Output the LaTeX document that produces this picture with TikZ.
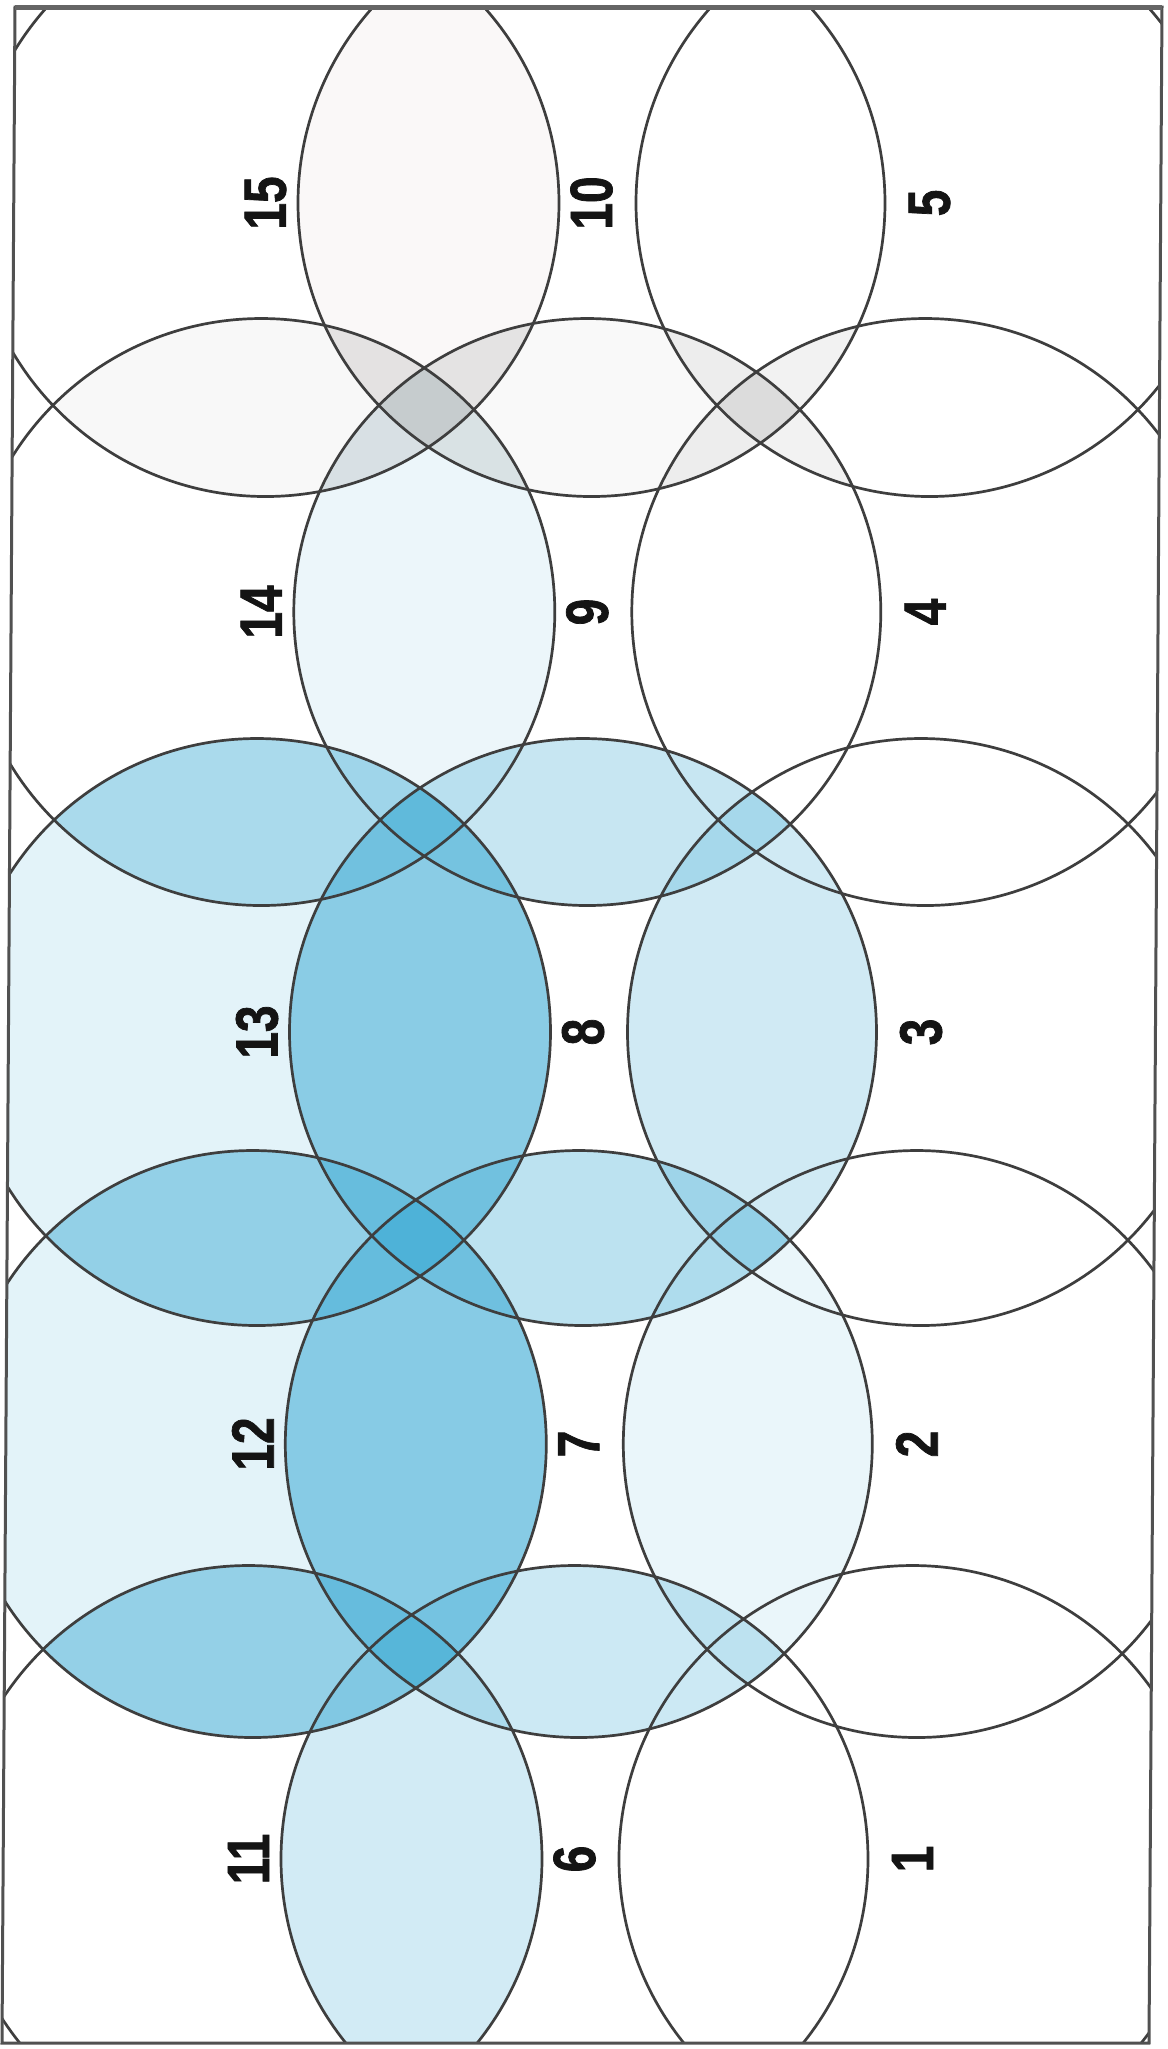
\documentclass[tikz,border=0pt]{standalone}
\usepackage{fontspec}
\setmainfont{Liberation Sans}
\newfontfamily\plotfont[FakeStretch=0.8, BoldFeatures={FakeBold=1.2}]{Liberation Sans}
\usepackage{xcolor}
\usepackage{tikz}

\definecolor{wash}{RGB}{70,175,215}
\definecolor{pencil}{RGB}{62,62,62}
\definecolor{smudge}{RGB}{120,120,120}
\definecolor{tint}{RGB}{175,150,140}

\newcommand{\plotrad}{29.35mm}
% fill the part of circle #2 lying inside circle #1
\newcommand{\lensfill}[4]{%
  \begin{scope}
    \clip (#1) circle (\plotrad);
    \fill[#3, opacity=#4] (#2) circle (\plotrad);
  \end{scope}}
% core shared by four circles
\newcommand{\quadfill}[5]{%
  \begin{scope}
    \clip (#1) circle (\plotrad); \clip (#2) circle (\plotrad); \clip (#3) circle (\plotrad);
    \fill[#5] (#4) circle (\plotrad);
  \end{scope}}
% shared by #1,#2,#3 but not #4
\newcommand{\petalfill}[5]{%
  \begin{scope}
    \clip (#1) circle (\plotrad); \clip (#2) circle (\plotrad); \clip (#3) circle (\plotrad);
    \fill[#5, even odd rule] (0,0) rectangle (1167,2049) (#4) circle (\plotrad);
  \end{scope}}

\begin{document}
\begin{tikzpicture}[
  x=0.1mm, y=-0.1mm,
  outline/.style={draw=pencil,line width=0.27mm},
  frame/.style={draw=pencil!90,line width=0.3mm},
  plotno/.style={font=\plotfont\fontsize{17}{17}\selectfont\bfseries,
    text=black!92,rotate=90,inner sep=0pt}
]
\useasboundingbox (0,0) rectangle (1167,2049);
\fill[white] (0,0) rectangle (1167,2049);

% plot centres (scan is slightly skewed)
\foreach \n/\px/\py in {1/912.5/1859, 6/574.5/1859, 11/248.5/1859,
                        2/916.8/1444, 7/578.8/1444, 12/252.8/1444,
                        3/921/1032,   8/583/1032,   13/257/1032,
                        4/925.3/612,  9/587.3/612,  14/261.3/612,
                        5/929.5/203,  10/591.5/203, 15/265.5/203}
  \coordinate (c\n) at (\px,\py);

\coordinate (tl) at (15,7);
\coordinate (tr) at (1162,7);
\coordinate (br) at (1149,2043);
\coordinate (bl) at (2,2043);

\begin{scope}
\clip (tl) -- (tr) -- (br) -- (bl) -- cycle;

% colour wash
\fill[wash, opacity=0.15] (c12) circle (\plotrad);
\fill[wash, opacity=0.15] (c13) circle (\plotrad);
\lensfill{c11}{c6}{wash}{0.24}
\lensfill{c12}{c7}{wash}{0.58}
\lensfill{c13}{c8}{wash}{0.56}
\lensfill{c14}{c9}{wash}{0.10}
\lensfill{c7}{c2}{wash}{0.11}
\lensfill{c8}{c3}{wash}{0.25}
\lensfill{c11}{c12}{wash}{0.50}
\lensfill{c12}{c13}{wash}{0.42}
\lensfill{c13}{c14}{wash}{0.36}
\lensfill{c6}{c7}{wash}{0.27}
\lensfill{c7}{c8}{wash}{0.36}
\lensfill{c8}{c9}{wash}{0.30}
\lensfill{c15}{c10}{tint}{0.06}
\lensfill{c14}{c15}{smudge}{0.05}
\lensfill{c9}{c10}{smudge}{0.04}

% grey cores
\quadfill{c15}{c10}{c14}{c9}{smudge, opacity=0.22}
\petalfill{c15}{c10}{c14}{c9}{smudge, opacity=0.12}
\petalfill{c15}{c10}{c9}{c14}{smudge, opacity=0.12}
\petalfill{c15}{c14}{c9}{c10}{smudge, opacity=0.12}
\petalfill{c10}{c14}{c9}{c15}{smudge, opacity=0.12}
\quadfill{c10}{c5}{c9}{c4}{smudge, opacity=0.22}
\petalfill{c10}{c5}{c9}{c4}{smudge, opacity=0.09}
\petalfill{c10}{c5}{c4}{c9}{smudge, opacity=0.09}
\petalfill{c10}{c9}{c4}{c5}{smudge, opacity=0.09}
\petalfill{c5}{c9}{c4}{c10}{smudge, opacity=0.09}

\foreach \n in {1,...,15}
  \draw[outline] (c\n) circle (\plotrad);
\end{scope}

\draw[frame] (tl) -- (tr) -- (br) -- (bl) -- cycle;
\draw[draw=pencil!80,line width=0.5mm] (tl) -- (tr);

\foreach \n in {1,...,15}
  \node[plotno] (n\n) at (c\n) {\n};
\end{tikzpicture}
\end{document}
